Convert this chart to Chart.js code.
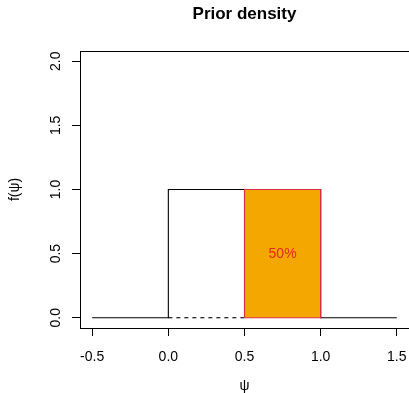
<!DOCTYPE html>
<html>
<head>
<meta charset="utf-8">
<title>Prior density</title>
<script src="https://cdn.jsdelivr.net/npm/chart.js@4.4.1/dist/chart.umd.min.js"></script>
<style>
  html, body { margin: 0; padding: 0; background: #ffffff; }
  #wrap { width: 409px; height: 393px; }
</style>
</head>
<body>
<div id="wrap"><canvas id="priorChart"></canvas></div>
<script>
// uniform prior on [0, 1], drawn as a step outline
var densityX = [-0.5, 0, 0, 1, 1, 1.5];
var densityY = [0, 0, 1, 1, 0, 0];

// unshaded part of the base, drawn dashed
var dashX = [0, 0.5];
var dashY = [0, 0];

// shaded region psi in [0.5, 1]
var shadeX = [0.5, 0.5, 1, 1];
var shadeY = [0, 1, 1, 0];

var xTicks = [-0.5, 0, 0.5, 1, 1.5];
var yTicks = [0, 0.5, 1, 1.5, 2];

var fontFamily = '"Liberation Sans", Arial, Helvetica, sans-serif';

function pairs(xs, ys) {
    var out = [];
    for (var i = 0; i < xs.length; i++) {
        out.push({ x: xs[i], y: ys[i] });
    }
    return out;
}

// outline of the shaded region, closed back to its first corner
function closedPairs(xs, ys) {
    var out = pairs(xs, ys);
    out.push({ x: xs[0], y: ys[0] });
    return out;
}

// probability mass of the shaded region, used for the label
function shadeMass() {
    var lo = Math.min.apply(null, shadeX);
    var hi = Math.max.apply(null, shadeX);
    var h = Math.max.apply(null, shadeY);
    return (hi - lo) * h;
}

var boxAndLabel = {
    id: 'boxAndLabel',
    afterDatasetsDraw: function (chart) {
        var ctx = chart.ctx;
        var area = chart.chartArea;
        var xs = chart.scales.x;
        var ys = chart.scales.y;

        // top edge of the plot box (left and bottom come from the axes)
        ctx.save();
        ctx.strokeStyle = '#000000';
        ctx.lineWidth = 1;
        ctx.beginPath();
        ctx.moveTo(area.left, Math.round(area.top) + 0.5);
        ctx.lineTo(area.right, Math.round(area.top) + 0.5);
        ctx.stroke();

        var cx = (Math.min.apply(null, shadeX) + Math.max.apply(null, shadeX)) / 2;
        var cy = Math.max.apply(null, shadeY) / 2;
        ctx.fillStyle = '#E02A22';
        ctx.font = '14px ' + fontFamily;
        ctx.textAlign = 'center';
        ctx.textBaseline = 'middle';
        ctx.fillText(Math.round(shadeMass() * 100) + '%', xs.getPixelForValue(cx), ys.getPixelForValue(cy) + 1);
        ctx.restore();
    }
};

var ctx = document.getElementById('priorChart').getContext('2d');

new Chart(ctx, {
    type: 'line',
    data: {
        datasets: [
            {
                label: 'shaded border',
                data: closedPairs(shadeX, shadeY),
                fill: false,
                borderColor: '#DA3045',
                borderWidth: 1.2,
                pointRadius: 0,
                tension: 0,
                order: 0
            },
            {
                label: 'shaded',
                data: pairs(shadeX, shadeY),
                fill: 'origin',
                backgroundColor: '#F4A700',
                borderWidth: 0,
                pointRadius: 0,
                tension: 0,
                order: 1
            },
            {
                label: 'density',
                data: pairs(densityX, densityY),
                fill: false,
                borderColor: '#000000',
                borderWidth: 1.1,
                pointRadius: 0,
                tension: 0,
                order: 2
            },
            {
                label: 'base',
                data: pairs(dashX, dashY),
                fill: false,
                borderColor: '#000000',
                borderWidth: 1.1,
                borderDash: [4, 4],
                pointRadius: 0,
                tension: 0,
                order: 3
            }
        ]
    },
    options: {
        responsive: true,
        maintainAspectRatio: false,
        animation: false,
        layout: {
            padding: { left: 0, right: 0, top: 0, bottom: 0 }
        },
        scales: {
            x: {
                type: 'linear',
                min: -0.58,
                max: 1.58,
                afterBuildTicks: function (scale) {
                    scale.ticks = xTicks.map(function (v) { return { value: v }; });
                },
                afterFit: function (scale) {
                    scale.height = 65;
                    scale.paddingLeft = 0;
                    scale.paddingRight = 0;
                },
                ticks: {
                    color: '#000000',
                    padding: 13,
                    maxRotation: 0,
                    font: { family: fontFamily, size: 14 },
                    callback: function (value) { return value.toFixed(1); }
                },
                grid: {
                    drawOnChartArea: false,
                    drawTicks: true,
                    tickLength: 8,
                    tickColor: '#000000',
                    lineWidth: 1
                },
                border: { display: true, color: '#000000', width: 1 },
                title: {
                    display: true,
                    text: 'ψ',
                    color: '#000000',
                    font: { family: fontFamily, size: 14, lineHeight: 1 },
                    padding: { top: 0, bottom: 0 }
                }
            },
            y: {
                type: 'linear',
                min: -0.08,
                max: 2.08,
                afterBuildTicks: function (scale) {
                    scale.ticks = yTicks.map(function (v) { return { value: v }; });
                },
                afterFit: function (scale) {
                    scale.width = 80;
                    scale.paddingTop = 0;
                    scale.paddingBottom = 0;
                },
                ticks: {
                    color: '#000000',
                    padding: 6,
                    minRotation: 90,
                    maxRotation: 90,
                    crossAlign: 'center',
                    font: { family: fontFamily, size: 14 },
                    callback: function (value) { return value.toFixed(1); }
                },
                grid: {
                    drawOnChartArea: false,
                    drawTicks: true,
                    tickLength: 8,
                    tickColor: '#000000',
                    lineWidth: 1
                },
                border: { display: true, color: '#000000', width: 1 },
                title: {
                    display: true,
                    text: 'f(ψ)',
                    color: '#000000',
                    font: { family: fontFamily, size: 14 },
                    padding: { top: 7, bottom: 0 }
                }
            }
        },
        plugins: {
            legend: { display: false },
            tooltip: { enabled: false },
            title: {
                display: true,
                fullSize: false,
                text: 'Prior density',
                color: '#000000',
                font: { family: fontFamily, size: 17, weight: 'bold' },
                padding: { top: 4, bottom: 26.6 }
            }
        }
    },
    plugins: [boxAndLabel]
});
</script>
</body>
</html>
